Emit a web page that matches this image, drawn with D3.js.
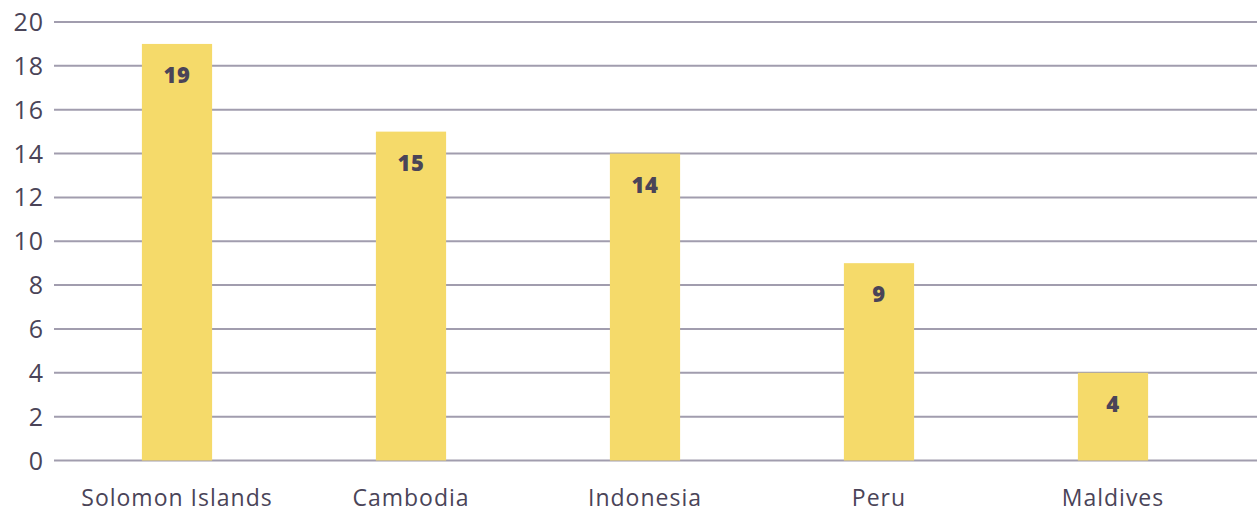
<!DOCTYPE html>
<html lang="en">
<head>
	<meta charset="UTF-8">
	<title>Bar chart</title>
	<script src="https://d3js.org/d3.v7.min.js"></script>
	<style>
		body { margin: 0; background: #fff; }
		text { font-family: "Open Sans", "Noto Sans", sans-serif; }
	</style>
</head>
<body>
	<svg id="chart" width="1257" height="513"></svg>
	<script>
		// Daten
		const countries = ["Solomon Islands", "Cambodia", "Indonesia", "Peru", "Maldives"];
		const values = [19, 15, 14, 9, 4];
		const yTicks = [0, 2, 4, 6, 8, 10, 12, 14, 16, 18, 20];

		const svg = d3.select("#chart");
		const textColor = "#4a4458";

		const x = d3.scaleBand()
			.domain(countries)
			.range([60, 1230])
			.paddingInner(0.7)
			.paddingOuter(0.35);

		const y = d3.scaleLinear()
			.domain([0, 20])
			.range([460.5, 22]);

		// Gitterlinien
		svg.append("g")
			.selectAll("line")
			.data(yTicks)
			.join("line")
			.attr("x1", 54)
			.attr("x2", 1257)
			.attr("y1", d => y(d))
			.attr("y2", d => y(d))
			.attr("stroke", "#a19dae")
			.attr("stroke-width", 2);

		// Achsenbeschriftung y
		svg.append("g")
			.selectAll("text")
			.data(yTicks)
			.join("text")
			.attr("x", 44)
			.attr("y", d => y(d))
			.attr("dy", "0.36em")
			.attr("text-anchor", "end")
			.attr("font-size", 25)
			.attr("letter-spacing", 1)
			.attr("fill", textColor)
			.text(d => d);

		// Balken
		svg.append("g")
			.selectAll("rect")
			.data(values)
			.join("rect")
			.attr("x", (d, i) => x(countries[i]))
			.attr("y", d => y(d))
			.attr("width", x.bandwidth())
			.attr("height", d => y(0) - y(d))
			.attr("fill", "#f5da6a");

		// Werte
		svg.append("g")
			.selectAll("text")
			.data(values)
			.join("text")
			.attr("x", (d, i) => x(countries[i]) + x.bandwidth() / 2)
			.attr("y", d => y(d) + 39)
			.attr("text-anchor", "middle")
			.attr("font-size", 22)
			.attr("font-weight", 800)
			.attr("letter-spacing", 0.5)
			.attr("fill", textColor)
			.text(d => d);

		// Kategorien
		svg.append("g")
			.selectAll("text")
			.data(countries)
			.join("text")
			.attr("x", d => x(d) + x.bandwidth() / 2)
			.attr("y", 506)
			.attr("text-anchor", "middle")
			.attr("font-size", 23)
			.attr("letter-spacing", 1)
			.attr("fill", textColor)
			.text(d => d);
	</script>
</body>
</html>
